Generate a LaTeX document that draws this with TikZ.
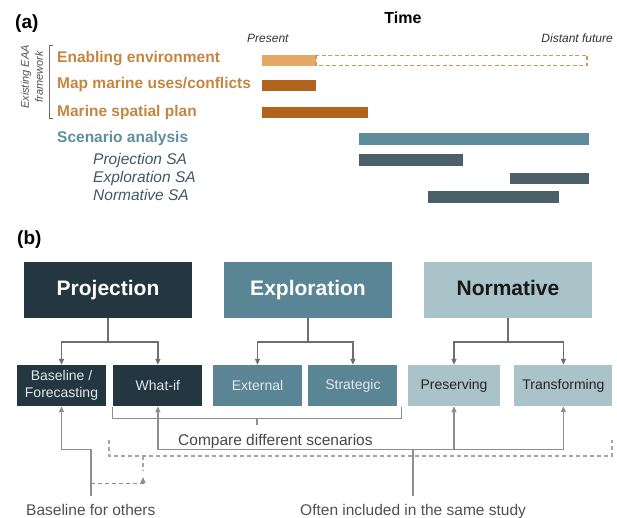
\documentclass[tikz,border=0pt]{standalone}
\usepackage{fontspec}
\setmainfont{Liberation Sans}
\usetikzlibrary{arrows.meta,positioning,calc}

\definecolor{eaatext}{HTML}{C4863F}
\definecolor{enablebar}{HTML}{E6A865}
\definecolor{eaabar}{HTML}{B2641F}
\definecolor{satext}{HTML}{5E909C}
\definecolor{sabar}{HTML}{5F8C9A}
\definecolor{subbar}{HTML}{4B6069}
\definecolor{subtext}{HTML}{3E5964}
\definecolor{projfill}{HTML}{243740}
\definecolor{explfill}{HTML}{5A8595}
\definecolor{normfill}{HTML}{A9C3C9}
\definecolor{lighttext}{HTML}{E2E8EA}
\definecolor{linegray}{HTML}{6E6E6E}
\definecolor{lowgray}{HTML}{8E8E8E}
\definecolor{notetext}{HTML}{505050}

\begin{document}
\begin{tikzpicture}[
    x=1pt,y=-1pt,
    panel/.style={anchor=base west,inner sep=0pt,font=\fontsize{19}{22}\selectfont\bfseries},
    timelabel/.style={inner sep=0pt,font=\fontsize{12}{14}\selectfont\itshape,text=black!80},
    eaalabel/.style={anchor=base west,inner sep=0pt,font=\fontsize{15.5}{18}\selectfont\bfseries,text=eaatext},
    salabel/.style={anchor=base west,inner sep=0pt,font=\fontsize{15.5}{18}\selectfont\bfseries,text=satext},
    sublabel/.style={anchor=base west,inner sep=0pt,font=\fontsize{15.5}{18}\selectfont\itshape,text=subtext},
    typebox/.style={rectangle,minimum width=168pt,minimum height=56pt,inner sep=0pt,text height=15pt,text depth=4.5pt,font=\fontsize{21}{24}\selectfont\bfseries},
    subbox/.style={rectangle,minimum width=89pt,minimum height=41pt,inner sep=0pt,align=center,font=\fontsize{14}{17}\selectfont},
    note/.style={anchor=base west,inner sep=0pt,font=\fontsize{15.5}{18}\selectfont,text=notetext},
    arrow/.style={-{Triangle[width=5pt,length=6pt]},line width=1.5pt,draw=linegray},
    lowarrow/.style={-{Triangle[width=5pt,length=6pt]},line width=1.4pt,draw=lowgray},
    bracket/.style={line width=1.4pt,draw=lowgray},
    dashbracket/.style={line width=1.2pt,draw=lowgray!80,dash pattern=on 4pt off 3pt},
    dasharrow/.style={-{Triangle[width=5pt,length=6pt]},line width=1.2pt,draw=lowgray,dash pattern=on 4pt off 3pt}
]
\useasboundingbox (0,0) rectangle (617,518);

% Panel (a): time line
\node[panel] (panela) at (15,29) {(a)};
\node[anchor=base,inner sep=0pt,font=\fontsize{16}{18}\selectfont\bfseries] (time) at (403,24) {Time};
\node[timelabel,anchor=base west] (present) at (247,43) {Present};
\node[timelabel,anchor=base east] (future) at (613,43) {Distant future};

% Existing EAA framework
\node[eaalabel] (enabling) at (57,62.5) {Enabling environment};
\node[eaalabel] (mapuses) at (57,89) {Map marine uses/conflicts};
\node[eaalabel] (msp) at (57,116.5) {Marine spatial plan};
\node[rotate=90,align=center,font=\fontsize{11}{14}\selectfont\itshape,text=notetext] (existing) at (32,77) {Existing EAA\\framework};
\draw[line width=1pt,draw=linegray] (53,46) -- (49,46) -- (49,119) -- (53,119);

% Scenario analysis
\node[salabel] (scenario) at (57,142.5) {Scenario analysis};
\node[sublabel] (projsa) at (93,165) {Projection SA};
\node[sublabel] (explsa) at (93,183) {Exploration SA};
\node[sublabel] (normsa) at (93,200.5) {Normative SA};

% Bars
\fill[enablebar] (262,55) rectangle (316,66);
\draw[enablebar!90!black,line width=1.3pt,dash pattern=on 4pt off 2.5pt] (316,55.5) rectangle (587,65.5);
\fill[eaabar] (262,80) rectangle (316,91);
\fill[eaabar] (262,107) rectangle (368,118);
\fill[sabar] (359,133) rectangle (589,145);
\fill[subbar] (359,154) rectangle (463,166);
\fill[subbar] (510,173) rectangle (589,184);
\fill[subbar] (428,191) rectangle (559,203);

% Panel (b): scenario types
\node[panel] (panelb) at (17,244) {(b)};
\node[typebox,fill=projfill,text=white] (projection) at (108,290) {Projection};
\node[typebox,fill=explfill,text=white] (exploration) at (308,290) {Exploration};
\node[typebox,fill=normfill,text=black!90] (normative) at (508,290) {Normative};

% Sub-types
\node[subbox,fill=projfill,text=lighttext] (baseline) at (61.5,385.5) {Baseline /\\Forecasting};
\node[subbox,fill=projfill,text=lighttext,right=7pt of baseline] (whatif) {What-if};
\node[subbox,fill=explfill,text=lighttext] (external) at (257.5,385.5) {External};
\node[subbox,fill=explfill,text=lighttext,right=6pt of external] (strategic) {Strategic};
\node[subbox,fill=normfill,text=black!85,minimum width=92pt] (preserving) at (454,385.5) {Preserving};
\node[subbox,fill=normfill,text=black!85,minimum width=98pt,right=14pt of preserving] (transforming) {Transforming};

\foreach \parent/\child in {projection/baseline,projection/whatif,exploration/external,exploration/strategic,normative/preserving,normative/transforming}
  \draw[arrow] (\parent.south) -- ++(0,24) -| (\child.north);

% Compare different scenarios
\draw[bracket] ($(whatif.south west)+(-1,1)$) -- ++(0,11) -| ($(strategic.south east)+(4,1)$);
\draw[bracket] ($(whatif.south west)!0.5!(strategic.south east)+(1.5,12)$) -- ++(0,7);
\node[note,text=black!72] (compare) at (178,445) {Compare different scenarios};

% Bottom notes
\node[note] (others) at (26,515) {Baseline for others};
\node[note] (often) at (300,515) {Often included in the same study};

\coordinate (dashleft) at (109,440);
\coordinate (dashright) at (612,440);
\coordinate (dashtick) at (143,471);
\draw[dashbracket] (dashleft) -- ++(0,16) -| (dashright);
\draw[dashbracket] (143,456) -- (dashtick);

\draw[lowarrow,shorten <=8pt] (others.north) -- ++(0,-54) -| (baseline.south);
\coordinate (othersdash) at ($(others.north)+(0,-20)$);
\draw[dasharrow] (othersdash) -| ($(dashtick)+(0,6)$);

\foreach \target in {whatif,preserving,transforming}
  \draw[lowarrow,shorten <=8pt] (often.north) -- ++(0,-54) -| (\target.south);

\end{tikzpicture}
\end{document}
